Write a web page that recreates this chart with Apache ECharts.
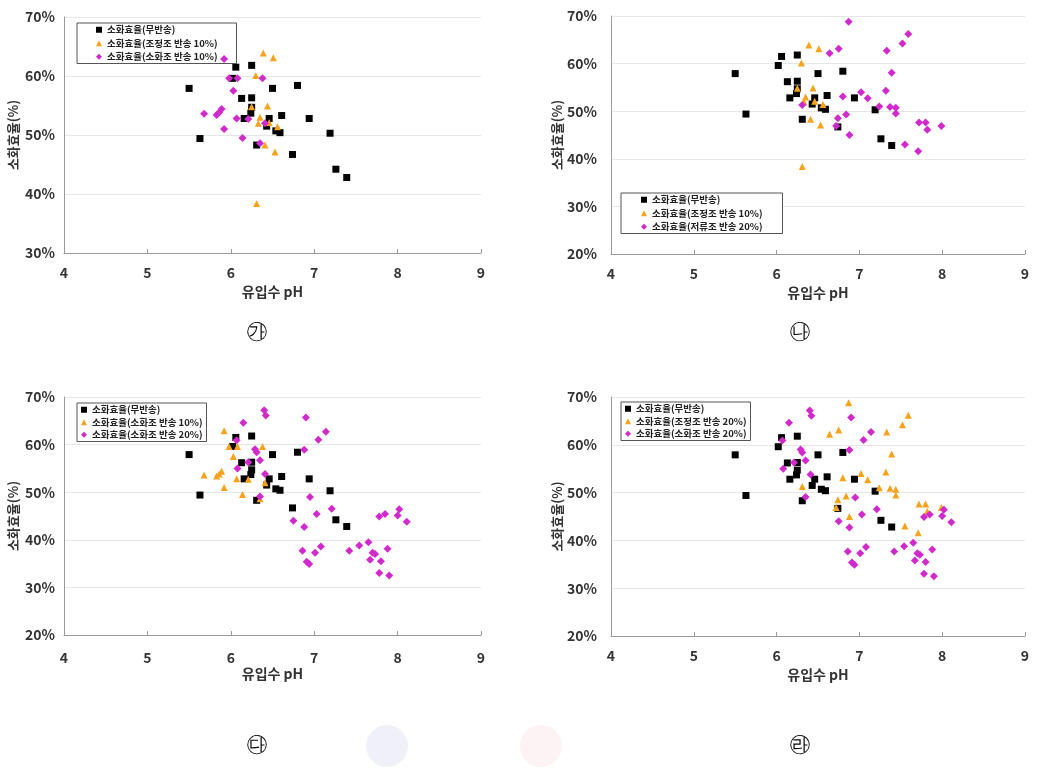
<!DOCTYPE html>
<html>
<head>
<meta charset="utf-8">
<script src="https://cdn.jsdelivr.net/npm/echarts@6.0.0/dist/echarts.min.js"></script>
<style>
html,body{margin:0;padding:0;background:#fff;}
#chart{width:1044px;height:771px;}
</style>
</head>
<body>
<div id="chart"></div>
<script>
// ---------- data (pH, digestion efficiency %) ----------
const xTickValues = [4, 5, 6, 7, 8, 9];
const yTickValues = [20, 30, 40, 50, 60, 70];

const noReturn = [ // 소화효율(무반송)
  [5.50,57.9],[5.63,49.4],[6.02,59.6],[6.06,61.5],[6.13,56.2],[6.25,61.8],[6.25,56.3],[6.25,54.7],
  [6.24,53.7],[6.16,52.8],[6.31,48.3],[6.46,52.8],[6.43,51.5],[6.50,57.9],[6.54,50.7],[6.59,50.4],
  [6.61,53.3],[6.80,58.4],[6.94,52.8],[6.74,46.7],[7.19,50.3],[7.26,44.2],[7.39,42.8]
];
const equalReturn10 = [ // 조정조 반송 10%
  [6.39,63.9],[6.51,63.1],[6.30,60.1],[6.25,54.8],[6.44,54.9],[6.35,53.0],[6.33,52.0],[6.46,52.1],
  [6.56,51.4],[6.41,48.3],[6.53,47.1],[6.31,38.4]
];
const digestReturn10 = [ // 소화조 반송 10%
  [5.92,62.9],[5.98,59.6],[6.08,59.6],[6.03,57.5],[6.38,59.6],[5.68,53.6],[5.83,53.4],[5.86,53.8],
  [5.89,54.4],[5.92,51.0],[6.07,52.8],[6.21,52.7],[6.14,49.5],[6.41,52.0],[6.35,48.6]
];
const return20 = [ // 저류조 반송 20% (나) / 조정조 반송 20% (라)
  [6.87,68.8],[7.59,66.2],[7.52,64.2],[7.33,62.7],[6.64,62.2],[6.75,63.1],[7.39,58.1],[7.02,54.0],
  [7.10,52.7],[6.80,53.1],[7.32,54.3],[7.24,51.0],[7.37,50.9],[7.44,50.7],[7.44,49.5],[6.31,51.3],
  [6.74,48.5],[6.84,49.3],[6.72,46.9],[6.88,45.0],[7.72,47.6],[7.80,47.6],[7.82,46.1],[7.99,46.9],
  [7.55,43.0],[7.71,41.6]
];
const digestReturn20 = [ // 소화조 반송 20%
  [6.40,67.2],[6.42,66.1],[6.15,64.6],[6.90,65.7],[7.14,62.7],[7.05,61.0],[6.07,60.9],[6.29,59.0],
  [6.31,58.4],[6.21,56.3],[6.35,56.7],[6.08,55.0],[6.41,53.8],[6.35,49.1],[6.88,58.9],[6.95,49.0],
  [7.21,46.5],[7.03,45.4],[6.75,44.0],[6.88,42.7],[6.86,37.7],[7.01,37.3],[7.08,38.6],[6.91,35.4],
  [6.94,34.9],[7.42,37.7],[7.54,38.8],[7.65,39.5],[7.70,37.3],[7.73,37.0],[7.67,35.8],[7.80,35.5],
  [7.88,38.1],[7.78,33.0],[7.90,32.5],[7.78,44.9],[7.85,45.4],[8.00,45.1],[8.02,46.4],[8.11,43.8]
];

const panelNames = [
  ['소화효율(무반송)','소화효율(조정조 반송 10%)','소화효율(소화조 반송 10%)'],
  ['소화효율(무반송)','소화효율(조정조 반송 10%)','소화효율(저류조 반송 20%)'],
  ['소화효율(무반송)','소화효율(소화조 반송 10%)','소화효율(소화조 반송 20%)'],
  ['소화효율(무반송)','소화효율(조정조 반송 20%)','소화효율(소화조 반송 20%)']
];
const panelData = [
  [noReturn, equalReturn10, digestReturn10],
  [noReturn, equalReturn10, return20],
  [noReturn, digestReturn10, digestReturn20],
  [noReturn, return20, digestReturn20]
];
const captions = ['㉮','㉯','㉰','㉱'];
const yMins = [30, 20, 20, 20];
const xAxisTitle = '유입수 pH';
const yAxisTitle = '소화효율(%)';

// ---------- styling / layout ----------
const BLACK = '#000000', ORANGE = '#f7a21c', PINK = '#d02acc';
const colors = [BLACK, ORANGE, PINK];
const symbols = ['rect','triangle','diamond'];
const symSizes = [7, 7, 8];
const FONT = '"Noto Sans CJK KR","Noto Sans",sans-serif';

const grids = [
  {left:64, top:17, width:417, height:236},
  {left:611, top:16, width:414, height:238},
  {left:64, top:397, width:417, height:238},
  {left:611, top:397, width:414, height:239}
];
const legendPos = [
  {left:77, top:23, padding:[2,19,2,19], itemGap:4},
  {left:621, top:193, padding:[2,20,2,20], itemGap:4},
  {left:77, top:403, padding:[2,4,2,4], itemGap:3},
  {left:621, top:402, padding:[2,4,2,4], itemGap:3}
];
const captionPos = [[257,332],[800,332],[257,745],[800,745]];
const xLabelMargin = [13, 13, 16, 13];

const option = {
  backgroundColor:'#fff',
  animation:false,
  textStyle:{fontFamily:FONT},
  grid: grids.map(g => Object.assign({containLabel:false}, g)),
  xAxis: grids.map((g,i) => ({
    gridIndex:i, type:'value', min:xTickValues[0], max:xTickValues[xTickValues.length-1], interval:1,
    name:xAxisTitle, nameLocation:'middle', nameGap:32,
    nameTextStyle:{fontSize:14, fontWeight:'bold', color:'#333', fontFamily:FONT},
    axisLine:{lineStyle:{color:'#9a9a9a', width:1}},
    axisTick:{show:true, inside:true, length:4, lineStyle:{color:'#9a9a9a'}},
    axisLabel:{fontSize:14, fontWeight:'bold', color:'#333', margin:xLabelMargin[i], fontFamily:FONT},
    splitLine:{show:false}
  })),
  yAxis: grids.map((g,i) => ({
    gridIndex:i, type:'value', min:yMins[i], max:yTickValues[yTickValues.length-1], interval:10,
    name:yAxisTitle, nameLocation:'middle', nameGap:i%2===0 ? 44 : 46,
    nameTextStyle:{fontSize:13, fontWeight:'bold', color:'#333', fontFamily:FONT},
    axisLine:{show:true, lineStyle:{color:'#9a9a9a', width:1}},
    axisTick:{show:false},
    axisLabel:{fontSize:14, fontWeight:'bold', color:'#333', margin:i%2===0 ? 9 : 14,
      formatter:'{value}%', fontFamily:FONT},
    splitLine:{show:true, lineStyle:{color:'#e6e6e6', width:1}}
  })),
  legend: panelNames.map((names,i) => Object.assign({
    orient:'vertical', itemWidth:6, itemHeight:6,
    borderColor:'#555', borderWidth:1, backgroundColor:'#fff', borderRadius:0,
    selectedMode:false,
    textStyle:{fontSize:9.5, fontWeight:'bold', color:'#222', fontFamily:FONT},
    data: names.map((n,k) => ({name:n, icon:symbols[k], itemStyle:{color:colors[k]}}))
  }, legendPos[i])),
  series: [],
  graphic: []
};

panelData.forEach((sets,i) => {
  sets.forEach((d,k) => {
    option.series.push({
      type:'scatter', name:panelNames[i][k], xAxisIndex:i, yAxisIndex:i,
      data:d, symbol:symbols[k], symbolSize:symSizes[k],
      itemStyle:{color:colors[k], opacity:1},
      z:2+k
    });
  });
});

// faint decorative circles seen between the bottom captions
option.graphic.push({type:'circle', shape:{cx:387, cy:746, r:21}, style:{fill:'#f0f1f8'}, silent:true});
option.graphic.push({type:'circle', shape:{cx:541, cy:746, r:21}, style:{fill:'#fdf2f4'}, silent:true});
captions.forEach((c,i) => {
  option.graphic.push({
    type:'text', x:captionPos[i][0], y:captionPos[i][1],
    style:{text:c, fontSize:22, fill:'#000', font:'22px "Noto Sans CJK KR"', textAlign:'center', textVerticalAlign:'middle'},
    silent:true
  });
});

const chart = echarts.init(document.getElementById('chart'), null, {renderer:'canvas'});
chart.setOption(option);
</script>
</body>
</html>
